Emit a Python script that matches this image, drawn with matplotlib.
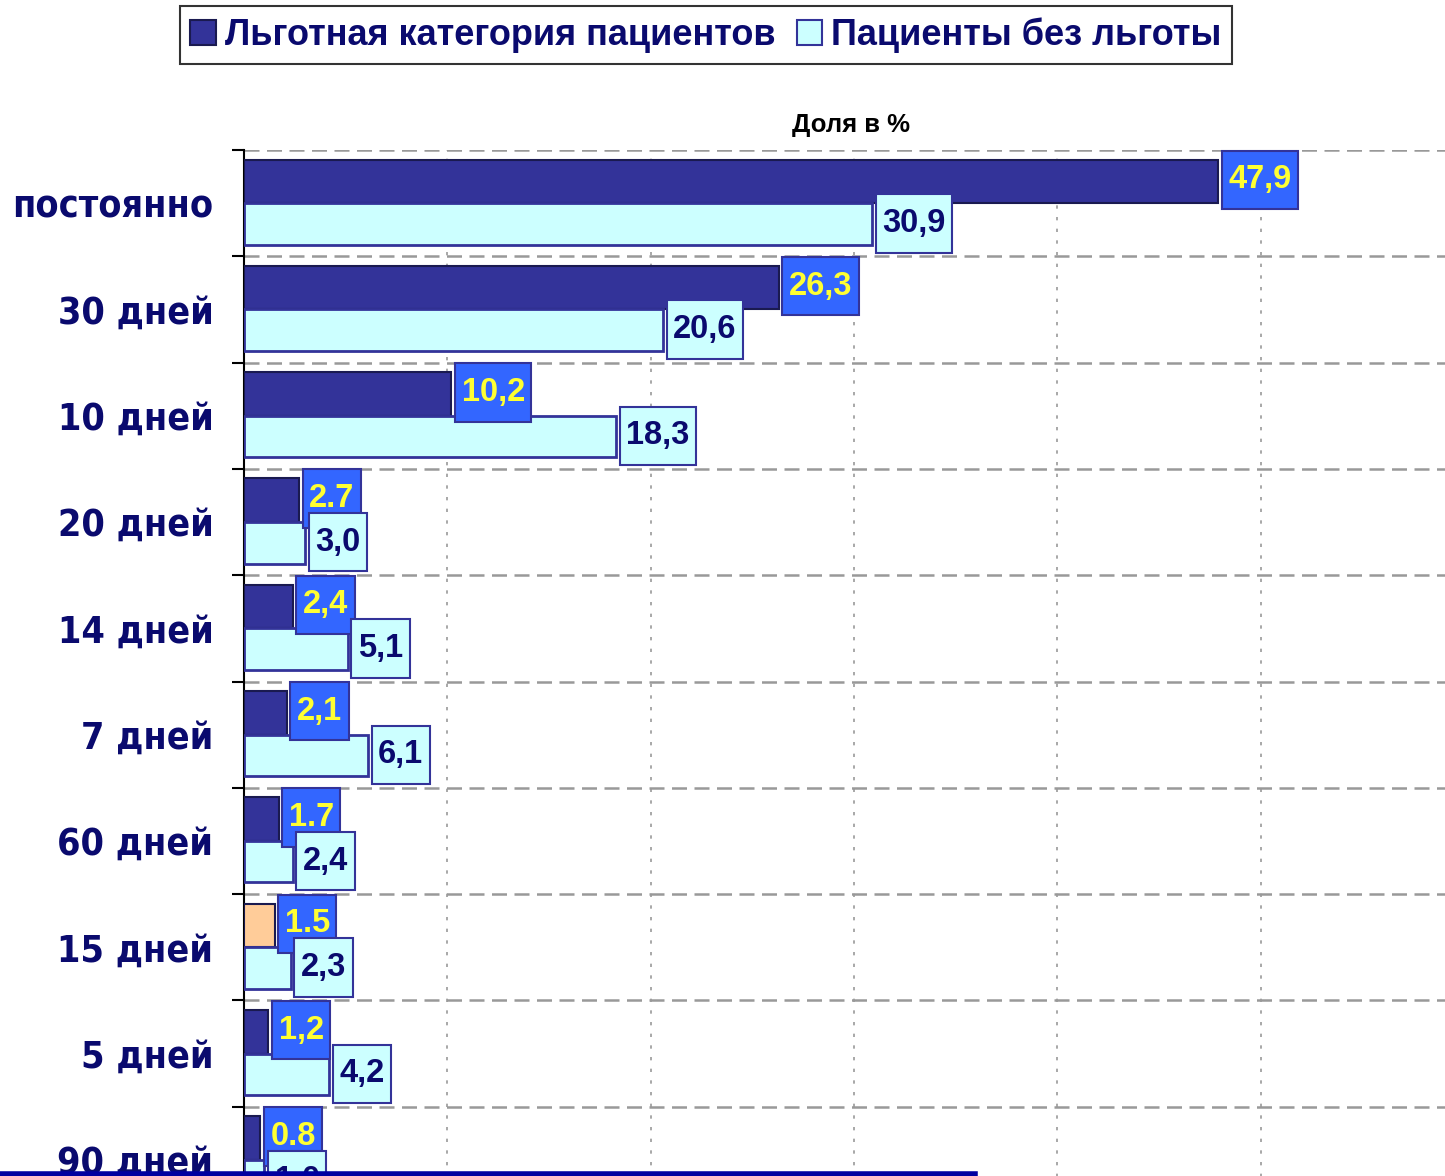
import matplotlib
matplotlib.use("Agg")
import matplotlib.pyplot as plt
from matplotlib.patches import Patch
from matplotlib.lines import Line2D
from matplotlib.path import Path

# Chart data
categories = ["постоянно", "30 дней", "10 дней", "20 дней", "14 дней",
              "7 дней", "60 дней", "15 дней", "5 дней", "90 дней"]
privileged = [47.9, 26.3, 10.2, 2.7, 2.4, 2.1, 1.7, 1.5, 1.2, 0.8]
non_privileged = [30.9, 20.6, 18.3, 3.0, 5.1, 6.1, 2.4, 2.3, 4.2, 1.0]
privileged_labels = ["47,9", "26,3", "10,2", "2.7", "2,4", "2,1", "1.7", "1.5", "1,2", "0.8"]
non_privileged_labels = ["30,9", "20,6", "18,3", "3,0", "5,1", "6,1", "2,4", "2,3", "4,2", "1,0"]
legend_names = ["Льготная категория пациентов", "Пациенты без льготы"]

NAVY = "#333399"
DARK_TEXT = "#0a0a6e"
LIGHT = "#ccffff"
BOX_BLUE = "#3366ff"
PEACH = "#ffcc99"

W, H = 1445, 1176


def tall_box(x0, y0, width, height, mutation_size):
    # rectangle with less padding left/right than top/bottom (like Excel data labels)
    px = 0.2 * mutation_size
    py = 0.42 * mutation_size
    x0, x1 = x0 - px, x0 + width + px
    y0, y1 = y0 - py, y0 + height + py
    return Path([(x0, y0), (x1, y0), (x1, y1), (x0, y1), (x0, y0)], closed=True)


fig = plt.figure(figsize=(W / 100, H / 100), dpi=100)
fig.patch.set_facecolor("white")

# axes extends past the bottom/right edge like the cropped slide
ax = fig.add_axes([244 / W, (H - 1213) / H, (1456 - 244) / W, (1213 - 150) / H])

y = list(range(len(categories)))
dark_colors = [PEACH if c == "15 дней" else NAVY for c in categories]

ax.barh([i - 0.205 for i in y], privileged, height=0.41, color=dark_colors,
        edgecolor="#1a1a50", linewidth=1.5, zorder=3)
ax.barh([i + 0.195 for i in y], non_privileged, height=0.39, color=LIGHT,
        edgecolor=NAVY, linewidth=2, zorder=3)

# value boxes: offset = small gap + box padding (in % units)
label_font = dict(family=["Liberation Sans", "DejaVu Sans"], weight="bold", size=23.5)
offset = 0.5
for i, (v, lab) in enumerate(zip(privileged, privileged_labels)):
    ax.text(v + offset, i - 0.22, lab, color="#ffff33", ha="left", va="center", zorder=5,
            bbox=dict(boxstyle=tall_box, facecolor=BOX_BLUE, edgecolor=NAVY, linewidth=1.5),
            **label_font)
for i, (v, lab) in enumerate(zip(non_privileged, non_privileged_labels)):
    ax.text(v + offset, i + 0.19, lab, color=DARK_TEXT, ha="left", va="center", zorder=6,
            bbox=dict(boxstyle=tall_box, facecolor=LIGHT, edgecolor=NAVY, linewidth=1.5),
            **label_font)

ax.set_ylim(len(categories) - 0.5, -0.5)
ax.set_xlim(0, 59.6)

# category labels
ax.set_yticks(y)
ax.set_yticklabels(categories)
for t in ax.get_yticklabels():
    t.set_fontfamily(["DejaVu Sans"])
    t.set_fontstretch("condensed")
    t.set_fontweight("bold")
    t.set_fontsize(27)
    t.set_color(DARK_TEXT)
ax.tick_params(axis="y", which="major", length=0, pad=22)

# band boundaries: ticks on the left spine + dashed grid
ax.set_yticks([i - 0.5 for i in range(len(categories) + 1)], minor=True)
ax.tick_params(axis="y", which="minor", length=9, width=1.5, color="black", direction="out")
ax.grid(axis="y", which="minor", color="#999999", linestyle=(0, (6, 3)), linewidth=1.8, zorder=0)

ax.set_xticks([10, 20, 30, 40, 50])
ax.tick_params(axis="x", length=0, labelbottom=False)
ax.grid(axis="x", which="major", color="#999999", linestyle=(0, (2, 5)), linewidth=1.2, zorder=0)

for side in ["top", "right", "bottom"]:
    ax.spines[side].set_visible(False)
ax.spines["left"].set_linewidth(1.5)
ax.set_axisbelow(True)

fig.text(851 / W, 1 - 125 / H, "Доля в %", ha="center", va="center",
         fontsize=18.5, fontweight="bold", color="black", family=["Liberation Sans", "DejaVu Sans"])

handles = [Patch(facecolor=NAVY, edgecolor="#1a1a50", linewidth=1.5),
           Patch(facecolor=LIGHT, edgecolor=NAVY, linewidth=1.5)]
leg = fig.legend(handles, legend_names, loc="center", bbox_to_anchor=(706 / W, 1 - 35 / H),
                 ncol=2, frameon=True, fancybox=False, handlelength=0.7, handleheight=0.7,
                 handletextpad=0.25, columnspacing=0.6, borderpad=0.3, borderaxespad=0,
                 prop=dict(family=["Liberation Sans", "DejaVu Sans"], weight="bold", size=26))
leg.get_frame().set_edgecolor("black")
leg.get_frame().set_linewidth(1.5)
for t in leg.get_texts():
    t.set_color(DARK_TEXT)

# slide decoration line at the bottom
fig.add_artist(Line2D([0, 975 / W], [2 / H, 2 / H], transform=fig.transFigure,
                      color="#0000a0", linewidth=4))

fig.savefig("out.png", dpi=100)
